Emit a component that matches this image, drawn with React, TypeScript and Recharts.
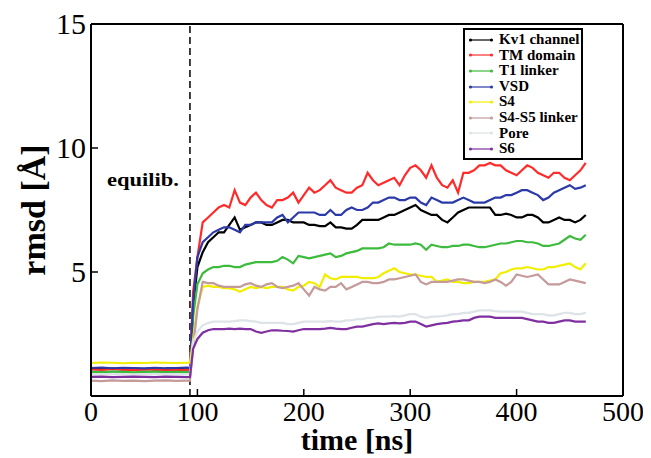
import { LineChart, Line, XAxis, YAxis, ReferenceLine, Label } from 'recharts'

const FONT = '"Liberation Serif", "Times New Roman", serif'

// time [ns]: equilibration stretch, then the production run
const TIME = [
  0, 10, 20, 30, 40, 50, 60, 70, 80, 90, 93, 96,
  100, 105, 110, 115, 120, 125, 130, 135, 140, 145,
  150, 155, 160, 165, 170, 175, 180, 185, 190, 195,
  200, 205, 210, 215, 220, 225, 230, 235, 240, 245,
  250, 255, 260, 265, 270, 275, 280, 285, 290, 295,
  300, 305, 310, 315, 320, 325, 330, 335, 340, 345,
  350, 355, 360, 365, 370, 375, 380, 385, 390, 395,
  400, 405, 410, 415, 420, 425, 430, 435, 440, 445,
  450, 455, 460, 465,
]

const KV1 = [
  1.09, 1.08, 1.1, 1.07, 1.09, 1.08, 1.1, 1.08, 1.09, 1.07, 1.09, 3.6,
  5.2, 5.8, 6.2, 6.4, 6.6, 6.6, 6.9, 7.2, 6.7, 6.8,
  6.9, 7.0, 7.0, 6.9, 6.9, 7.0, 7.1, 7.1, 7.0, 7.0,
  7.0, 6.9, 6.9, 6.85, 6.85, 7.0, 6.8, 6.8, 6.75, 6.75,
  6.9, 7.1, 7.1, 7.1, 7.1, 7.2, 7.3, 7.3, 7.4, 7.5,
  7.6, 7.7, 7.5, 7.4, 7.3, 7.3, 7.1, 7.0, 7.2, 7.4,
  7.5, 7.6, 7.6, 7.6, 7.6, 7.6, 7.3, 7.3, 7.35, 7.3,
  7.2, 7.2, 7.3, 7.3, 7.2, 7.0, 7.0, 7.1, 7.2, 7.1,
  7.1, 7.0, 7.1, 7.3,
]

const TM = [
  1.07, 1.05, 1.08, 1.06, 1.04, 1.07, 1.05, 1.06, 1.04, 1.06, 1.06, 4.2,
  5.6, 7.0, 7.2, 7.4, 7.6, 7.7, 7.6, 8.3, 7.8, 7.7,
  8.0, 8.2, 7.9, 7.7, 7.6, 7.9, 7.9, 8.0, 8.2, 7.8,
  8.1, 8.4, 8.2, 8.3, 8.5, 8.7, 8.4, 8.3, 8.2, 8.2,
  8.4, 8.5, 9.0, 8.7, 8.5, 8.6, 8.7, 8.8, 8.5, 8.9,
  9.2, 9.3, 9.1, 8.8, 9.3, 8.8, 8.5, 8.4, 8.7, 8.2,
  9.0, 9.0, 9.1, 9.3, 9.3, 9.4, 9.3, 9.3, 9.1, 9.0,
  8.9, 9.1, 9.3, 9.2, 9.0, 8.9, 8.8, 9.0, 9.0, 8.8,
  8.7, 8.9, 9.1, 9.4,
]

const T1 = [
  0.97, 0.96, 0.98, 0.97, 0.95, 0.97, 0.98, 0.96, 0.97, 0.96, 0.97, 3.2,
  4.5, 4.95, 5.1, 5.2, 5.2, 5.25, 5.25, 5.2, 5.2, 5.3,
  5.35, 5.4, 5.4, 5.4, 5.4, 5.45, 5.6, 5.5, 5.35, 5.65,
  5.6, 5.55, 5.6, 5.65, 5.7, 5.75, 5.6, 5.65, 5.75, 5.8,
  5.85, 5.95, 5.95, 5.95, 5.95, 6.0, 6.15, 6.1, 6.1, 6.1,
  6.1, 6.15, 6.1, 5.9, 6.1, 6.05, 6.0, 6.0, 6.05, 6.05,
  6.1, 6.1, 6.05, 6.0, 6.0, 6.05, 6.1, 6.15, 6.15, 6.2,
  6.25, 6.25, 6.2, 6.2, 6.15, 6.05, 6.05, 6.1, 6.15, 6.3,
  6.45, 6.35, 6.3, 6.5,
]

const VSD = [
  1.13, 1.15, 1.12, 1.14, 1.13, 1.11, 1.14, 1.12, 1.13, 1.15, 1.13, 3.8,
  5.6, 6.2, 6.4, 6.6, 6.7, 6.8, 6.8, 6.7, 6.6, 6.9,
  6.9, 7.0, 7.0, 7.0, 7.0, 7.2, 7.3, 7.0, 7.2, 7.4,
  7.4, 7.4, 7.4, 7.3, 7.3, 7.5, 7.3, 7.3, 7.5, 7.6,
  7.5, 7.5, 7.6, 7.8, 7.8, 7.9, 8.0, 8.0, 7.9, 7.9,
  8.0, 8.0, 7.8, 7.7, 8.0, 7.9, 7.8, 7.8, 7.8, 7.9,
  8.0, 7.9, 7.8, 7.8, 7.8, 7.9, 8.0, 8.0, 8.1, 8.1,
  8.2, 8.3, 8.3, 8.2, 8.1, 7.9, 8.0, 8.2, 8.3, 8.4,
  8.5, 8.35, 8.4, 8.5,
]

const S4 = [
  1.33, 1.35, 1.34, 1.32, 1.34, 1.33, 1.35, 1.34, 1.33, 1.34, 1.34, 2.3,
  3.6, 4.4, 4.45, 4.4, 4.4, 4.35, 4.35, 4.3, 4.2, 4.3,
  4.4, 4.35, 4.4, 4.35, 4.4, 4.4, 4.4, 4.3, 4.25, 4.4,
  4.45, 4.6, 4.55, 4.4, 4.9, 4.75, 4.7, 4.8, 4.8, 4.8,
  4.8, 4.75, 4.75, 4.75, 4.8, 4.95, 5.05, 5.15, 5.0, 4.95,
  4.9, 4.9, 4.85, 4.8, 4.8, 4.6, 4.65, 4.7, 4.6, 4.6,
  4.55, 4.55, 4.6, 4.6, 4.6, 4.65, 4.7, 4.95, 5.0, 5.1,
  5.15, 5.15, 5.2, 5.15, 5.1, 5.1, 5.2, 5.2, 5.25, 5.3,
  5.35, 5.2, 5.1, 5.35,
]

const S4S5 = [
  0.62, 0.6, 0.63, 0.61, 0.62, 0.6, 0.62, 0.63, 0.61, 0.62, 0.62, 2.0,
  3.5, 4.6, 4.55, 4.55, 4.45, 4.4, 4.4, 4.4, 4.4, 4.5,
  4.55, 4.45, 4.4, 4.5, 4.55, 4.4, 4.35, 4.4, 4.45, 4.55,
  4.3, 4.05, 4.4, 4.3, 4.25, 4.4, 4.4, 4.55, 4.3, 4.4,
  4.5, 4.6, 4.6, 4.55, 4.55, 4.6, 4.7, 4.7, 4.75, 4.8,
  4.85, 4.9, 4.6, 4.5, 4.6, 4.6, 4.6, 4.6, 4.65, 4.7,
  4.7, 4.65, 4.6, 4.6, 4.55, 4.6, 4.7, 4.6, 4.45, 4.6,
  4.9, 4.85, 4.8, 4.85, 4.9, 4.7, 4.5, 4.5, 4.5, 4.6,
  4.7, 4.65, 4.6, 4.55,
]

const PORE = [
  0.88, 0.87, 0.89, 0.88, 0.86, 0.88, 0.89, 0.87, 0.88, 0.87, 0.88, 2.2,
  2.6, 2.85, 2.95, 3.0, 3.0, 3.0, 3.0, 3.02, 3.05, 3.05,
  3.02, 3.0, 2.95, 2.95, 2.95, 2.95, 2.95, 2.9, 2.9, 2.95,
  3.0, 3.0, 3.0, 3.0, 3.0, 3.02, 3.0, 3.0, 3.05, 3.05,
  3.1, 3.1, 3.15, 3.15, 3.2, 3.2, 3.2, 3.22, 3.2, 3.25,
  3.3, 3.3, 3.2, 3.15, 3.2, 3.2, 3.22, 3.25, 3.3, 3.3,
  3.35, 3.35, 3.4, 3.45, 3.45, 3.45, 3.42, 3.4, 3.4, 3.4,
  3.4, 3.4, 3.35, 3.3, 3.3, 3.3, 3.25, 3.25, 3.3, 3.35,
  3.35, 3.3, 3.3, 3.35,
]

const S6 = [
  0.77, 0.78, 0.76, 0.77, 0.78, 0.77, 0.76, 0.78, 0.77, 0.76, 0.77, 1.9,
  2.3, 2.55, 2.65, 2.7, 2.7, 2.7, 2.72, 2.7, 2.72, 2.7,
  2.7, 2.6, 2.55, 2.6, 2.65, 2.65, 2.63, 2.62, 2.6, 2.65,
  2.7, 2.7, 2.7, 2.7, 2.72, 2.75, 2.72, 2.7, 2.7, 2.75,
  2.8, 2.8, 2.85, 2.9, 2.93, 2.9, 2.93, 2.95, 2.93, 2.95,
  3.0, 3.0, 2.9, 2.8, 2.85, 2.9, 2.93, 2.95, 3.0, 3.02,
  3.05, 3.05, 3.15, 3.2, 3.2, 3.2, 3.15, 3.15, 3.15, 3.15,
  3.15, 3.15, 3.1, 3.05, 3.0, 3.0, 2.95, 2.95, 3.0, 3.05,
  3.05, 3.0, 3.0, 3.0,
]

const X_TICKS = [0, 100, 200, 300, 400, 500]
const Y_TICKS = [5, 10, 15]
const EQUIL_END = 93

const SERIES = [
  { key: 'kv1', name: 'Kv1 channel', color: '#000000', values: KV1 },
  { key: 'tm', name: 'TM domain', color: '#ff2a2a', values: TM },
  { key: 't1', name: 'T1 linker', color: '#3dbb3d', values: T1 },
  { key: 'vsd', name: 'VSD', color: '#2b3aa8', values: VSD },
  { key: 's4', name: 'S4', color: '#f2ee00', values: S4 },
  { key: 's4s5', name: 'S4-S5 linker', color: '#c49a9a', values: S4S5 },
  { key: 'pore', name: 'Pore', color: '#dde3e6', values: PORE },
  { key: 's6', name: 'S6', color: '#7f2f9f', values: S6 },
]

const datos = TIME.map((t, i) => {
  const fila: Record<string, number> = { t }
  SERIES.forEach((s) => {
    fila[s.key] = s.values[i]
  })
  return fila
})

function XTick({ x, y, payload }: any) {
  return (
    <g>
      <line x1={x} y1={y} x2={x} y2={y - 7} stroke="#000" strokeWidth={1.5} />
      <text x={x} y={y + 25} textAnchor="middle" fontSize={28} fontFamily={FONT} fill="#000">
        {payload.value}
      </text>
    </g>
  )
}

function YTick({ x, y, payload }: any) {
  return (
    <g>
      <line x1={x} y1={y} x2={x + 7} y2={y} stroke="#000" strokeWidth={1.5} />
      <text x={x - 5} y={y + 10} textAnchor="end" fontSize={30} fontFamily={FONT} fill="#000">
        {payload.value}
      </text>
    </g>
  )
}

function XLabel({ viewBox }: any) {
  const { x, y, width } = viewBox
  return (
    <text x={x + width / 2} y={y + 54} textAnchor="middle" fontSize={30} fontWeight="bold" fontFamily={FONT} fill="#000">
      time [ns]
    </text>
  )
}

function YLabel({ viewBox }: any) {
  const { y, height } = viewBox
  const cx = 37
  const cy = y + height / 2
  return (
    <text
      x={cx}
      y={cy}
      transform={`rotate(-90 ${cx} ${cy})`}
      textAnchor="middle"
      fontSize={34}
      fontWeight="bold"
      fontFamily={FONT}
      fill="#000"
    >
      rmsd [Å]
    </text>
  )
}

function EquilLabel({ viewBox }: any) {
  const { x, y } = viewBox
  return (
    <text
      x={x - 83}
      y={y + 162}
      fontSize={18}
      fontWeight="bold"
      fontFamily={FONT}
      textLength={72}
      lengthAdjust="spacingAndGlyphs"
      fill="#000"
    >
      equilib.
    </text>
  )
}

function Leyenda() {
  return (
    <div
      style={{
        position: 'absolute',
        left: 455,
        top: 20,
        width: 120,
        height: 132,
        border: '2px solid #000',
        boxSizing: 'border-box',
        background: '#fff',
        fontFamily: FONT,
        fontWeight: 'bold',
        fontSize: 15,
      }}
    >
      {SERIES.map((s, i) => (
        <div
          key={s.key}
          style={{
            position: 'absolute',
            left: 3,
            top: 2 + i * 15.6,
            height: 15.6,
            display: 'flex',
            alignItems: 'center',
            whiteSpace: 'nowrap',
          }}
        >
          <svg width={26} height={8} style={{ marginRight: 5 }}>
            <line x1={2} y1={4} x2={24} y2={4} stroke={s.color} strokeWidth={1.2} />
            <circle cx={2.5} cy={4} r={1.6} fill={s.color} />
            <circle cx={23.5} cy={4} r={1.6} fill={s.color} />
          </svg>
          <span style={{ color: '#000', lineHeight: '15.6px' }}>{s.name}</span>
        </div>
      ))}
    </div>
  )
}

export default function App() {
  return (
    <div style={{ position: 'relative', width: 643, height: 450, background: '#fff' }}>
      <LineChart width={643} height={450} data={datos} margin={{ top: 16, right: 28, bottom: 0, left: 0 }}>
        <XAxis
          dataKey="t"
          type="number"
          domain={[0, 500]}
          ticks={X_TICKS}
          interval={0}
          tick={<XTick />}
          tickLine={false}
          tickSize={0}
          tickMargin={0}
          axisLine={{ stroke: '#000', strokeWidth: 2 }}
          height={62}
        >
          <Label content={<XLabel />} />
        </XAxis>
        <YAxis
          type="number"
          domain={[0, 15]}
          ticks={Y_TICKS}
          interval={0}
          tick={<YTick />}
          tickLine={false}
          tickSize={0}
          tickMargin={0}
          axisLine={{ stroke: '#000', strokeWidth: 2 }}
          width={83}
        >
          <Label content={<YLabel />} />
        </YAxis>
        <ReferenceLine y={15} stroke="#000" strokeWidth={2} />
        <ReferenceLine x={500} stroke="#000" strokeWidth={2} />
        <ReferenceLine
          x={EQUIL_END}
          stroke="#000"
          strokeWidth={1.5}
          strokeDasharray="7 4"
          label={<EquilLabel />}
        />
        {SERIES.map((s) => (
          <Line
            key={s.key}
            type="linear"
            dataKey={s.key}
            name={s.name}
            stroke={s.color}
            strokeWidth={2.2}
            dot={false}
            isAnimationActive={false}
          />
        ))}
      </LineChart>
      <Leyenda />
    </div>
  )
}
